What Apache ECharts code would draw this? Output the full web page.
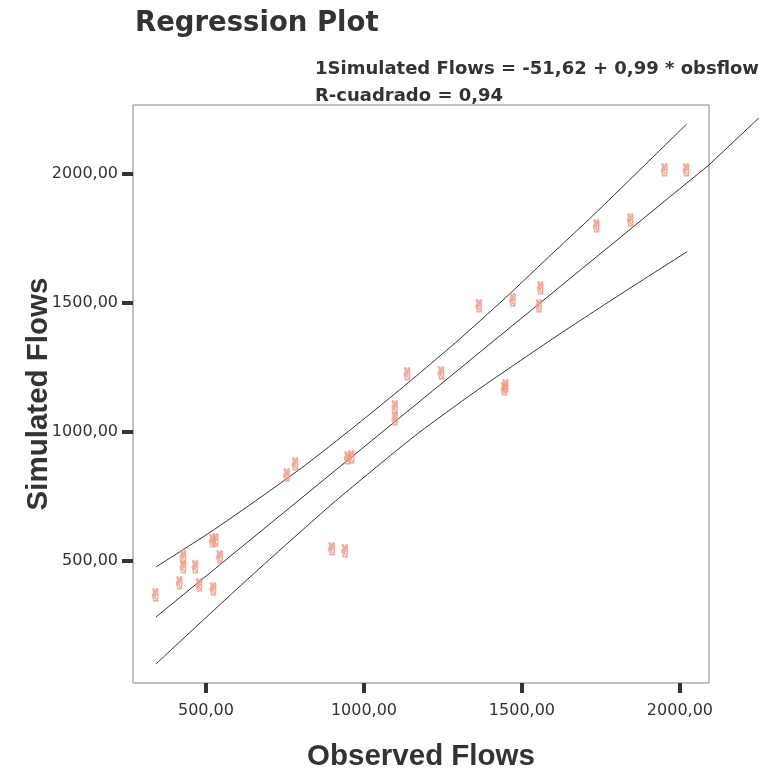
<!DOCTYPE html>
<html>
<head>
<meta charset="utf-8">
<title>Regression Plot</title>
<script src="https://cdn.jsdelivr.net/npm/echarts@6/dist/echarts.min.js"></script>
<style>
  html, body { margin: 0; padding: 0; background: #fff; }
  #chart { width: 759px; height: 771px; }
</style>
</head>
<body>
<div id="chart"></div>
<script>
// observed vs simulated flows
var obsFlow = [341, 417, 429, 429, 467, 480, 524, 522, 531, 545, 757, 784, 899, 941, 949, 962,
               1099, 1099, 1138, 1246, 1365, 1472, 1560, 1555, 1445, 1449, 1737, 1845, 1952, 2021];
var simFlow = [362, 407, 510, 472, 472, 400, 384, 570, 575, 510, 827, 868, 540, 532, 891, 898,
               1092, 1043, 1217, 1224, 1483, 1505, 1553, 1483, 1160, 1172, 1792, 1815, 2009, 2009];

// fit line (runs on past the frame at the right)
var fitX = [342, 2092, 2250];
var fitY = [283, 2035, 2217];

// upper / lower bands
var upperX = [342, 513, 671, 816, 965, 1092, 1187, 1300, 1440, 1608, 1725, 1861, 2022];
var upperY = [477, 611, 745, 873, 1016, 1142, 1239, 1357, 1511, 1705, 1839, 2001, 2194];
var lowerX = [342, 405, 585, 712, 902, 1092, 1177, 1345, 1608, 1820, 2022];
var lowerY = [101, 173, 377, 518, 724, 917, 1000, 1150, 1370, 1540, 1698];

var tickVals = [500, 1000, 1500, 2000];
var xMin = 269, xMax = 2092, yMin = 27, yMax = 2267;

function pairs(xs, ys) {
    return xs.map(function (x, i) { return [x, ys[i]]; });
}
function fmt(v) {
    return v.toFixed(2).replace('.', ',');
}

var W = 759, gLeft = 133, gRight = 50;
// second (hidden) grid reaching to the page edge, same scale, so the fit line can leave the frame
var xMax2 = xMin + (xMax - xMin) * (W - gLeft) / (W - gLeft - gRight);

var font = 'DejaVu Sans, sans-serif';
var nameFont = 'Liberation Sans, Arial, sans-serif';
var textColor = '#333';
var lineStyle = { color: '#333', width: 1 };

var option = {
    backgroundColor: '#fff',
    animation: false,
    textStyle: { fontFamily: font },
    title: [
        {
            text: 'Regression Plot',
            left: 135, top: 10, padding: 0,
            textStyle: { fontFamily: font, fontSize: 27.5, fontWeight: 'bold', color: textColor }
        },
        {
            text: '1Simulated Flows = -51,62 + 0,99 * obsflow\nR-cuadrado = 0,94',
            left: 315, top: 56, padding: 0,
            textStyle: { fontFamily: font, fontSize: 18, fontWeight: 'bold', color: textColor, lineHeight: 27 }
        }
    ],
    grid: [
        {
            left: gLeft, right: gRight, top: 105, bottom: 88, outerBoundsMode: 'none',
            show: true, borderColor: '#8c8282', borderWidth: 1, backgroundColor: '#fff'
        },
        { left: gLeft, right: 0, top: 105, bottom: 88, outerBoundsMode: 'none', show: false }
    ],
    xAxis: [
        {
            type: 'value',
            min: xMin, max: xMax,
            name: 'Observed Flows',
            nameLocation: 'middle',
            nameGap: 59,
            nameMoveOverlap: false,
            nameTextStyle: { fontFamily: nameFont, fontSize: 29.5, fontWeight: 'bold', color: textColor },
            splitLine: { show: false },
            axisLine: { show: false },
            axisTick: { show: true, customValues: tickVals, length: 10, lineStyle: { color: '#333', width: 4 } },
            axisLabel: { customValues: tickVals, formatter: fmt, margin: 20, fontSize: 16, color: textColor, fontFamily: font }
        },
        { type: 'value', gridIndex: 1, min: xMin, max: xMax2, show: false }
    ],
    yAxis: [
        {
            type: 'value',
            min: yMin, max: yMax,
            name: 'Simulated Flows',
            nameLocation: 'middle',
            nameGap: 79,
            nameMoveOverlap: false,
            nameTextStyle: { fontFamily: nameFont, fontSize: 29.5, fontWeight: 'bold', color: textColor },
            splitLine: { show: false },
            axisLine: { show: false },
            axisTick: { show: true, customValues: tickVals, length: 11, lineStyle: { color: '#333', width: 4 } },
            axisLabel: { customValues: tickVals, formatter: fmt, margin: 15, fontSize: 16, color: textColor, fontFamily: font }
        },
        { type: 'value', gridIndex: 1, min: yMin, max: yMax, show: false }
    ],
    series: [
        {
            type: 'line', data: pairs(upperX, upperY), symbol: 'none', smooth: 0.2,
            lineStyle: lineStyle, z: 3
        },
        {
            type: 'line', data: pairs(lowerX, lowerY), symbol: 'none', smooth: 0.2,
            lineStyle: lineStyle, z: 3
        },
        {
            type: 'line', xAxisIndex: 1, yAxisIndex: 1,
            data: pairs(fitX, fitY), symbol: 'none', clip: false,
            lineStyle: lineStyle, z: 3
        },
        {
            type: 'scatter',
            data: pairs(obsFlow, simFlow),
            symbolSize: 10,
            itemStyle: { color: 'rgba(0,0,0,0)' },
            z: 4,
            label: {
                show: true,
                position: 'inside',
                formatter: '\u270C',
                fontFamily: 'DejaVu Sans',
                fontSize: 17,
                color: 'rgba(255,255,255,0)',
                textBorderColor: '#f29680',
                textBorderWidth: 1
            }
        }
    ]
};

var chart = echarts.init(document.getElementById('chart'));
chart.setOption(option);
</script>
</body>
</html>
